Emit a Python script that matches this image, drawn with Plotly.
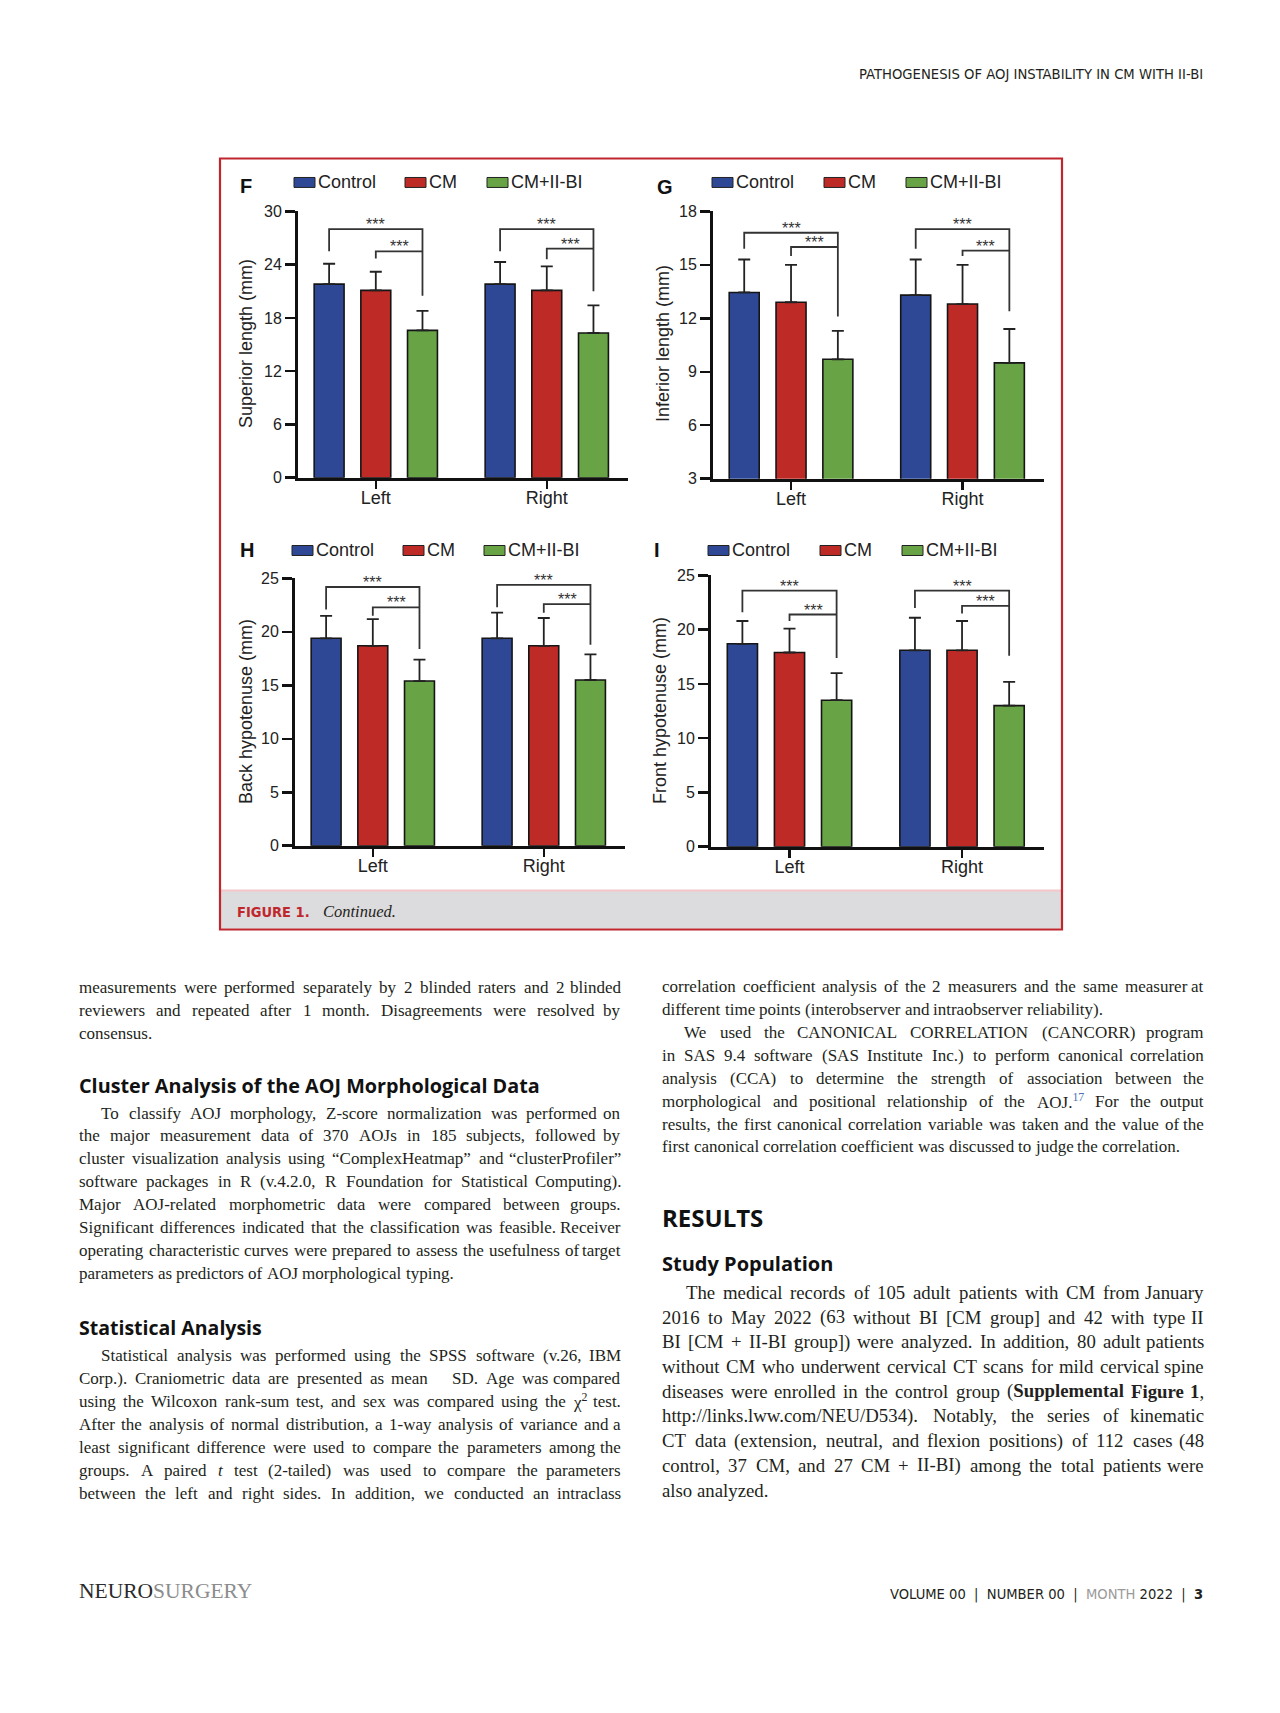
import re
import plotly.graph_objects as go

W, H = 1280, 1713

# ---------------- data ----------------
GROUPS = ["Left", "Right"]
SERIES = ["Control", "CM", "CM+II-BI"]
COLORS = ["#2E4896", "#BE2A26", "#68A445"]

# F: Superior length (mm)
f_control = [21.8, 21.8]
f_control_sd = [2.3, 2.5]
f_cm = [21.1, 21.1]
f_cm_sd = [2.1, 2.7]
f_bi = [16.6, 16.3]
f_bi_sd = [2.2, 3.1]
f_ticks = [0, 6, 12, 18, 24, 30]
# significance brackets (outer top, control leg end, CM+II-BI leg end, inner top, CM leg end)
f_br_outer = [28.0, 28.0]
f_br_ctrl = [25.5, 25.5]
f_br_bi = [20.5, 21.0]
f_br_inner = [25.5, 25.8]
f_br_cm = [24.7, 24.6]

# G: Inferior length (mm)
g_control = [13.45, 13.3]
g_control_sd = [1.85, 2.0]
g_cm = [12.9, 12.8]
g_cm_sd = [2.1, 2.2]
g_bi = [9.7, 9.5]
g_bi_sd = [1.6, 1.9]
g_ticks = [3, 6, 9, 12, 15, 18]
g_br_outer = [16.8, 17.0]
g_br_ctrl = [15.9, 15.9]
g_br_bi = [12.1, 12.4]
g_br_inner = [16.0, 15.8]
g_br_cm = [15.5, 15.5]

# H: Back hypotenuse (mm)
h_control = [19.4, 19.4]
h_control_sd = [2.1, 2.4]
h_cm = [18.7, 18.7]
h_cm_sd = [2.5, 2.6]
h_bi = [15.4, 15.5]
h_bi_sd = [2.0, 2.4]
h_ticks = [0, 5, 10, 15, 20, 25]
h_br_outer = [24.2, 24.4]
h_br_ctrl = [22.1, 22.3]
h_br_bi = [18.4, 18.8]
h_br_inner = [22.3, 22.6]
h_br_cm = [21.5, 21.8]

# I: Front hypotenuse (mm)
i_control = [18.7, 18.1]
i_control_sd = [2.1, 3.0]
i_cm = [17.9, 18.1]
i_cm_sd = [2.2, 2.7]
i_bi = [13.5, 13.0]
i_bi_sd = [2.5, 2.2]
i_ticks = [0, 5, 10, 15, 20, 25]
i_br_outer = [23.6, 23.6]
i_br_ctrl = [21.6, 22.0]
i_br_bi = [17.4, 17.6]
i_br_inner = [21.4, 22.2]
i_br_cm = [20.8, 21.5]

STARS = "***"

# ---------------- helpers ----------------
def PX(px):
    return px / W


def PY(py):
    # measured page y (px from top) -> paper fraction, with a small empirical correction
    yy = 66.4 + 1.0074 * (py - 73)
    return 1 - yy / H


SANS = "Liberation Sans, Arial, Helvetica, sans-serif"
SERIF = "Liberation Serif, Times New Roman, serif"
HEAD = "Open Sans, Noto Sans, sans-serif"
NARROW = "Liberation Sans Narrow, DejaVu Sans Condensed, Arial Narrow, sans-serif"
INK = "#231F20"

panels = [
    dict(label="F", ytitle="Superior length (mm)",
         means=[f_control, f_cm, f_bi], sds=[f_control_sd, f_cm_sd, f_bi_sd],
         ticks=f_ticks, xdom=(298, 628), ydom=(211, 478),
         br=(f_br_outer, f_br_ctrl, f_br_bi, f_br_inner, f_br_cm),
         lab=(246, 186), leg_y=182, leg_x=(294, 405, 487), tit=(246, 344)),
    dict(label="G", ytitle="Inferior length (mm)",
         means=[g_control, g_cm, g_bi], sds=[g_control_sd, g_cm_sd, g_bi_sd],
         ticks=g_ticks, xdom=(713, 1044), ydom=(211, 479),
         br=(g_br_outer, g_br_ctrl, g_br_bi, g_br_inner, g_br_cm),
         lab=(665, 187), leg_y=182, leg_x=(712, 824, 906), tit=(663, 344)),
    dict(label="H", ytitle="Back hypotenuse (mm)",
         means=[h_control, h_cm, h_bi], sds=[h_control_sd, h_cm_sd, h_bi_sd],
         ticks=h_ticks, xdom=(295, 625), ydom=(579, 847),
         br=(h_br_outer, h_br_ctrl, h_br_bi, h_br_inner, h_br_cm),
         lab=(247, 551), leg_y=551, leg_x=(292, 403, 484), tit=(246, 713)),
    dict(label="I", ytitle="Front hypotenuse (mm)",
         means=[i_control, i_cm, i_bi], sds=[i_control_sd, i_cm_sd, i_bi_sd],
         ticks=i_ticks, xdom=(711, 1044), ydom=(576, 848),
         br=(i_br_outer, i_br_ctrl, i_br_bi, i_br_inner, i_br_cm),
         lab=(657, 551), leg_y=551, leg_x=(708, 820, 902), tit=(660, 712)),
]

OFFS = [-0.273, 0.0, 0.273]
BW = 0.175
XR = [-0.455, 1.475]

fig = go.Figure()
annotations = []
shapes = []
layout_axes = {}

for k, p in enumerate(panels):
    n = "" if k == 0 else str(k + 1)
    xref, yref = "x" + n, "y" + n
    for s, name in enumerate(SERIES):
        fig.add_trace(go.Bar(
            x=[gi + OFFS[s] for gi in range(len(GROUPS))],
            y=p["means"][s], width=BW, name=name,
            marker=dict(color=COLORS[s], line=dict(color="#151515", width=1.6)),
            error_y=dict(type="data", symmetric=False, array=p["sds"][s],
                         arrayminus=[0] * len(GROUPS), color="#222222",
                         thickness=1.8, width=6),
            xaxis=xref, yaxis=yref, showlegend=False, hoverinfo="skip"))
    outer, ctrl, bi, inner, cm = p["br"]
    for gi in range(len(GROUPS)):
        xc, xm, xb = gi + OFFS[0], gi + OFFS[1], gi + OFFS[2]
        fig.add_trace(go.Scatter(
            x=[xc, xc, xb, xb], y=[ctrl[gi], outer[gi], outer[gi], bi[gi]],
            mode="lines", line=dict(color="#333333", width=1.8),
            xaxis=xref, yaxis=yref, showlegend=False, hoverinfo="skip"))
        fig.add_trace(go.Scatter(
            x=[xm, xm, xb], y=[cm[gi], inner[gi], inner[gi]],
            mode="lines", line=dict(color="#333333", width=1.8),
            xaxis=xref, yaxis=yref, showlegend=False, hoverinfo="skip"))
        for (xa, ya) in [((xc + xb) / 2, outer[gi]), ((xm + xb) / 2, inner[gi])]:
            annotations.append(dict(x=xa, y=ya, xref=xref, yref=yref, text=STARS,
                                    showarrow=False, yanchor="bottom", yshift=-6,
                                    font=dict(family=SANS, size=16, color="#333333")))
    layout_axes["xaxis" + n] = dict(
        domain=[PX(p["xdom"][0]), PX(p["xdom"][1])], range=XR, anchor=yref,
        tickvals=list(range(len(GROUPS))), ticktext=GROUPS, ticks="outside",
        ticklen=8, tickwidth=2.5, tickcolor="#111111", showline=True,
        linewidth=3, linecolor="#111111", showgrid=False, zeroline=False,
        ticklabelstandoff=-6,
        tickfont=dict(family=SANS, size=18, color="#222222"), fixedrange=True)
    layout_axes["yaxis" + n] = dict(
        domain=[PY(p["ydom"][1]), PY(p["ydom"][0])],
        range=[p["ticks"][0], p["ticks"][-1]], anchor=xref,
        tickvals=p["ticks"], ticks="outside", ticklen=10, tickwidth=2.5,
        tickcolor="#111111", showline=True, linewidth=3, linecolor="#111111",
        showgrid=False, zeroline=False,
        tickfont=dict(family=SANS, size=16, color="#222222"), fixedrange=True)
    annotations.append(dict(x=PX(p["tit"][0]), y=PY(p["tit"][1]), xref="paper", yref="paper",
                            text=p["ytitle"], textangle=-90, showarrow=False,
                            xanchor="center", yanchor="middle",
                            font=dict(family=SANS, size=18, color="#222222")))
    annotations.append(dict(x=PX(p["lab"][0]), y=PY(p["lab"][1]), xref="paper", yref="paper",
                            text="<b>%s</b>" % p["label"], showarrow=False,
                            xanchor="center", yanchor="middle",
                            font=dict(family=SANS, size=20, color="#111111")))
    for s, name in enumerate(SERIES):
        x0 = p["leg_x"][s]
        shapes.append(dict(type="rect", xref="paper", yref="paper",
                           x0=PX(x0), x1=PX(x0 + 21), y0=PY(p["leg_y"] + 5), y1=PY(p["leg_y"] - 5),
                           fillcolor=COLORS[s], line=dict(color="#222222", width=1)))
        annotations.append(dict(x=PX(x0 + 23), y=PY(p["leg_y"]), xref="paper", yref="paper",
                                text=name, showarrow=False, xanchor="left", yanchor="middle",
                                borderpad=0,
                                font=dict(family=SANS, size=18, color="#222222")))

# ---------------- figure frame ----------------
shapes.append(dict(type="rect", xref="paper", yref="paper", layer="below",
                   x0=PX(221), x1=PX(1061), y0=PY(930), y1=PY(892),
                   fillcolor="#DCDBDD", line=dict(width=0)))
shapes.append(dict(type="line", xref="paper", yref="paper",
                   x0=PX(221), x1=PX(1061), y0=PY(892), y1=PY(892),
                   line=dict(color="#F4C6CA", width=2)))
shapes.append(dict(type="rect", xref="paper", yref="paper",
                   x0=PX(220), x1=PX(1062), y0=PY(931), y1=PY(158),
                   fillcolor="rgba(0,0,0,0)", line=dict(color="#C0272D", width=2.2)))
annotations.append(dict(x=PX(236), y=PY(913), xref="paper", yref="paper",
                        text="<b>FIGURE 1.</b>", showarrow=False, xanchor="left", yanchor="middle",
                        borderpad=0, font=dict(family=NARROW, size=14.5, color="#C0272D")))
annotations.append(dict(x=PX(322), y=PY(913), xref="paper", yref="paper",
                        text="<i>Continued.</i>", showarrow=False, xanchor="left", yanchor="middle",
                        borderpad=0, font=dict(family=SERIF, size=16.5, color=INK)))

# header & footer
annotations.append(dict(x=PX(1204), y=PY(73), xref="paper", yref="paper",
                        text="PATHOGENESIS OF AOJ INSTABILITY IN CM WITH II-BI", showarrow=False,
                        xanchor="right", yanchor="middle", borderpad=0,
                        font=dict(family=NARROW, size=14.7, color=INK)))
annotations.append(dict(x=PX(78), y=PY(1594), xref="paper", yref="paper",
                        text="<span style='color:#2a2a2a'>NEURO</span><span style='color:#8c8c8c'>SURGERY</span>",
                        showarrow=False, xanchor="left", yanchor="middle", borderpad=0,
                        font=dict(family=SERIF, size=21.5, color=INK)))
annotations.append(dict(x=PX(1204), y=PY(1597), xref="paper", yref="paper",
                        text="VOLUME 00  |  NUMBER 00  |  <span style='color:#9a9a9a'>MONTH</span> 2022  |  <b>3</b>",
                        showarrow=False, xanchor="right", yanchor="middle", borderpad=0,
                        font=dict(family=NARROW, size=14.6, color=INK)))

# ---------------- body text (justified word by word) ----------------
TIMES = {' ': 250, '!': 333, '"': 408, '%': 833, '&': 778, "'": 333, '(': 333, ')': 333,
         '*': 500, '+': 564, ',': 250, '-': 333, '.': 250, '/': 278, ':': 278, ';': 278,
         '?': 444, '[': 333, ']': 333, '“': 444, '”': 444, 'χ': 550, '\u00a0': 250,
         'A': 722, 'B': 667, 'C': 667, 'D': 722, 'E': 611, 'F': 556, 'G': 722, 'H': 722,
         'I': 333, 'J': 389, 'K': 722, 'L': 611, 'M': 889, 'N': 722, 'O': 722, 'P': 556,
         'Q': 722, 'R': 667, 'S': 556, 'T': 611, 'U': 722, 'V': 722, 'W': 944, 'X': 722,
         'Y': 722, 'Z': 611,
         'a': 444, 'b': 500, 'c': 444, 'd': 500, 'e': 444, 'f': 333, 'g': 500, 'h': 500,
         'i': 278, 'j': 278, 'k': 500, 'l': 278, 'm': 778, 'n': 500, 'o': 500, 'p': 500,
         'q': 500, 'r': 333, 's': 389, 't': 278, 'u': 500, 'v': 500, 'w': 722, 'x': 500,
         'y': 500, 'z': 444}
for d in "0123456789":
    TIMES[d] = 500
TIMES_B = {'S': 556, 'u': 556, 'p': 556, 'l': 278, 'e': 444, 'm': 833, 'n': 556, 't': 333,
           'a': 500, 'F': 611, 'i': 278, 'g': 500, 'r': 444, '1': 500}


def token_width(tok, size):
    w = 0.0
    for part in re.split(r'(<sup>.*?</sup>)', tok):
        if not part:
            continue
        if part.startswith('<sup>'):
            inner = re.sub(r'<[^>]+>', '', part)
            w += 0.7 * sum(TIMES.get(c, 500) for c in inner)
        else:
            bold = '<b>' in part
            inner = re.sub(r'<[^>]+>', '', part)
            for c in inner:
                w += TIMES_B.get(c, TIMES.get(c, 500) * 1.05) if bold else TIMES.get(c, 500)
    return w * size / 1000.0


def place_line(text, x0, x1, y, size, justify, indent):
    words = re.split(r' (?![^<]*>)', text)
    widths = [token_width(t, size) for t in words]
    start = x0 + indent
    if justify and len(words) > 1:
        gap = (x1 - start - sum(widths)) / (len(words) - 1)
    else:
        gap = 0.25 * size
    x = start
    for k, t in enumerate(words):
        last = justify and k == len(words) - 1 and len(words) > 1
        if t.strip():
            annotations.append(dict(x=PX(x1 if last else x), y=PY(y), xref="paper", yref="paper",
                                    text=t, showarrow=False, xanchor="right" if last else "left",
                                    yanchor="middle", borderpad=0,
                                    font=dict(family=SERIF, size=size, color=INK)))
        x += widths[k] + gap


def heading(text, x, y, size):
    annotations.append(dict(x=PX(x), y=PY(y), xref="paper", yref="paper", text="<b>%s</b>" % text,
                            showarrow=False, xanchor="left", yanchor="middle", borderpad=0,
                            font=dict(family=HEAD, size=size, color="#111111")))


LX0, LX1 = 78, 622
RX0, RX1 = 661, 1205
FS = 17.0
FS_RES = 18.8
LEAD = 23.0
LEAD_RES = 24.75

left_p1 = [
    "measurements were performed separately by 2 blinded raters and 2 blinded",
    "reviewers and repeated after 1 month. Disagreements were resolved by",
    "consensus.",
]
left_p2 = [
    "To classify AOJ morphology, Z-score normalization was performed on",
    "the major measurement data of 370 AOJs in 185 subjects, followed by",
    "cluster visualization analysis using “ComplexHeatmap” and “clusterProfiler”",
    "software packages in R (v.4.2.0, R Foundation for Statistical Computing).",
    "Major AOJ-related morphometric data were compared between groups.",
    "Significant differences indicated that the classification was feasible. Receiver",
    "operating characteristic curves were prepared to assess the usefulness of target",
    "parameters as predictors of AOJ morphological typing.",
]
left_p3 = [
    "Statistical analysis was performed using the SPSS software (v.26, IBM",
    "Corp.). Craniometric data are presented as mean \u00a0\u00a0 SD. Age was compared",
    "using the Wilcoxon rank-sum test, and sex was compared using the χ<sup>2</sup> test.",
    "After the analysis of normal distribution, a 1-way analysis of variance and a",
    "least significant difference were used to compare the parameters among the",
    "groups. A paired <i>t</i> test (2-tailed) was used to compare the parameters",
    "between the left and right sides. In addition, we conducted an intraclass",
]
right_p1 = [
    "correlation coefficient analysis of the 2 measurers and the same measurer at",
    "different time points (interobserver and intraobserver reliability).",
]
right_p2 = [
    "We used the CANONICAL CORRELATION (CANCORR) program",
    "in SAS 9.4 software (SAS Institute Inc.) to perform canonical correlation",
    "analysis (CCA) to determine the strength of association between the",
    "morphological and positional relationship of the AOJ.<sup><span style='color:#4F6FB5'>17</span></sup> For the output",
    "results, the first canonical correlation variable was taken and the value of the",
    "first canonical correlation coefficient was discussed to judge the correlation.",
]
right_p3 = [
    "The medical records of 105 adult patients with CM from January",
    "2016 to May 2022 (63 without BI [CM group] and 42 with type II",
    "BI [CM + II-BI group]) were analyzed. In addition, 80 adult patients",
    "without CM who underwent cervical CT scans for mild cervical spine",
    "diseases were enrolled in the control group (<b>Supplemental</b> <b>Figure</b> <b>1</b>,",
    "http://links.lww.com/NEU/D534). Notably, the series of kinematic",
    "CT data (extension, neutral, and flexion positions) of 112 cases (48",
    "control, 37 CM, and 27 CM + II-BI) among the total patients were",
    "also analyzed.",
]


def paragraph(lines, x0, x1, y0, lead, size, indent, last_justified):
    for k, t in enumerate(lines):
        is_last = k == len(lines) - 1
        place_line(t, x0, x1, y0 + k * lead, size,
                   justify=(not is_last) or last_justified,
                   indent=indent if k == 0 else 0)


paragraph(left_p1, LX0, LX1, 989, LEAD, FS, 0, False)
heading("Cluster Analysis of the AOJ Morphological Data", LX0, 1087, 19.8)
paragraph(left_p2, LX0, LX1, 1115, LEAD, FS, 22, False)
heading("Statistical Analysis", LX0, 1330, 19.5)
paragraph(left_p3, LX0, LX1, 1358, LEAD, FS, 22, True)

paragraph(right_p1, RX0, RX1, 988, LEAD, FS, 0, False)
paragraph(right_p2, RX0, RX1, 1034, LEAD, FS, 22, False)
heading("RESULTS", RX0, 1220, 24)
heading("Study Population", RX0, 1266, 20)
paragraph(right_p3, RX0, RX1, 1295, LEAD_RES, FS_RES, 24, False)

fig.update_layout(
    width=W, height=H, margin=dict(l=0, r=0, t=0, b=0),
    paper_bgcolor="white", plot_bgcolor="rgba(0,0,0,0)",
    barmode="overlay", showlegend=False,
    annotations=annotations, shapes=shapes, **layout_axes)

fig.write_html("out.html", config={"displayModeBar": False, "staticPlot": True},
               post_script="document.body.style.margin='0';")
